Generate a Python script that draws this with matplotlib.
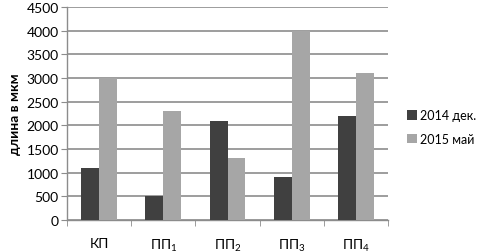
import matplotlib
matplotlib.use("Agg")
import matplotlib.pyplot as plt
import numpy as np

categories = ["КП", "ПП$_1$", "ПП$_2$", "ПП$_3$", "ПП$_4$"]
series_names = ["2014 дек.", "2015 май"]
dec2014 = [1100, 500, 2100, 900, 2200]
may2015 = [3000, 2300, 1300, 4000, 3100]
yticks = [0, 500, 1000, 1500, 2000, 2500, 3000, 3500, 4000, 4500]

plt.rcParams['font.family'] = ['Lato', 'DejaVu Sans']
plt.rcParams['mathtext.fontset'] = 'custom'
plt.rcParams['mathtext.rm'] = 'Lato'
plt.rcParams['mathtext.it'] = 'Lato'

fig = plt.figure(figsize=(4.79, 2.53), dpi=100)
ax = fig.add_axes([0.140, 0.1265, 0.670, 0.8415])

x = np.arange(len(categories))
w = 0.28
ax.bar(x - w/2, dec2014, w, color="#404040", label=series_names[0], zorder=3)
ax.bar(x + w/2, may2015, w, color="#a6a6a6", label=series_names[1], zorder=3)

ax.set_xlim(-0.5, len(categories) - 0.5)
ax.set_ylim(0, 4500)
ax.set_yticks(yticks)
ax.yaxis.grid(True, color="#8c8c8c", linewidth=1.2, zorder=0)
ax.set_axisbelow(True)

for s in ["top", "right"]:
    ax.spines[s].set_visible(False)
for s in ["left", "bottom"]:
    ax.spines[s].set_color("#8c8c8c")
    ax.spines[s].set_linewidth(1.0)

ax.set_xticks(x)
ax.set_xticklabels(categories, fontsize=10)
ax.tick_params(axis="x", which="major", length=0, pad=12)
ax.set_xticks(np.arange(-0.5, len(categories)), minor=True)
ax.tick_params(axis="x", which="minor", length=4, color="#8c8c8c", direction="out")
ax.tick_params(axis="y", length=4, color="#8c8c8c", labelsize=10, pad=2)

ax.set_ylabel("длина в мкм", fontsize=10, fontweight="bold", labelpad=4)

fig.legend(*ax.get_legend_handles_labels(), loc="center left",
           bbox_to_anchor=(0.850, 0.494), bbox_transform=fig.transFigure,
           frameon=False, borderpad=0, borderaxespad=0,
           fontsize=9, handlelength=0.75, handleheight=0.75, handletextpad=0.3,
           labelspacing=0.9)

fig.savefig("out.png", dpi=100)
